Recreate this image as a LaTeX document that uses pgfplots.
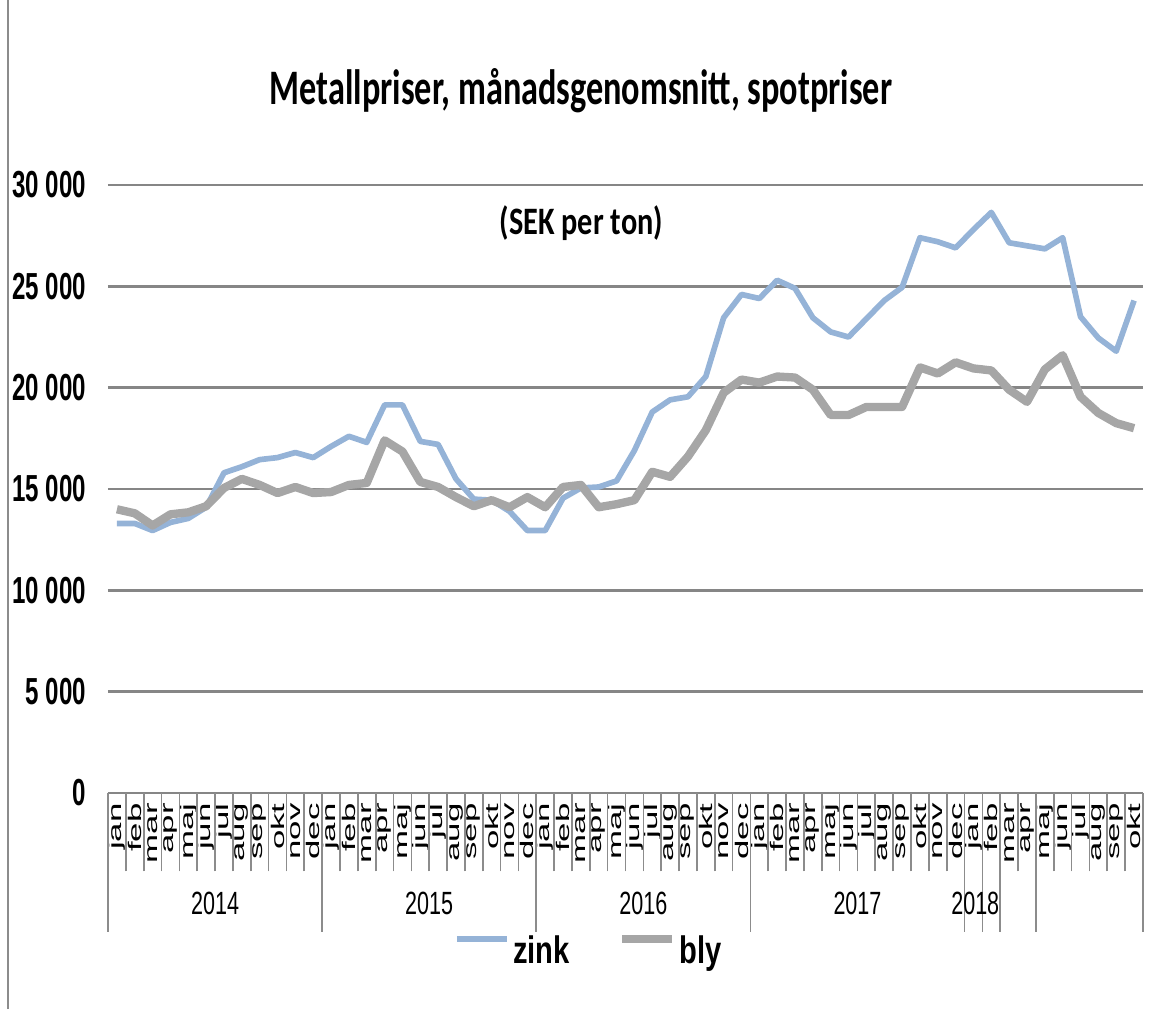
\documentclass[border=0pt]{standalone}
\usepackage{fontspec}
\setmainfont{Liberation Sans}
\newfontfamily\titlefam[FakeStretch=0.69]{Carlito}
\newfontfamily\subfam[FakeStretch=0.78]{Carlito}
\newfontfamily\narrowfam[FakeStretch=0.64]{Liberation Sans}
\newfontfamily\yearfam[FakeStretch=0.67]{Liberation Sans}
\newfontfamily\monthfam[FakeStretch=1.9]{Liberation Sans}
\newfontfamily\legfam[FakeStretch=0.76]{Liberation Sans}
\usepackage{pgfplots}
\pgfplotsset{compat=1.18}
\usepackage{pgfplotstable}
\definecolor{zinkcol}{RGB}{149,179,215}
\definecolor{blycol}{RGB}{166,166,166}
\definecolor{gridgray}{RGB}{134,134,134}
\definecolor{tickgray}{RGB}{140,140,140}

\pgfplotstableread{
x zink bly
0 13300 14000
1 13300 13800
2 12950 13200
3 13350 13750
4 13550 13850
5 14100 14150
6 15800 15050
7 16100 15500
8 16450 15200
9 16550 14800
10 16800 15100
11 16550 14800
12 17100 14850
13 17600 15200
14 17300 15300
15 19150 17400
16 19150 16850
17 17350 15350
18 17200 15100
19 15500 14600
20 14500 14150
21 14450 14450
22 13900 14100
23 12950 14600
24 12950 14100
25 14550 15100
26 15050 15200
27 15100 14100
28 15400 14250
29 16900 14450
30 18800 15850
31 19400 15600
32 19550 16600
33 20550 17900
34 23450 19750
35 24600 20400
36 24400 20250
37 25300 20550
38 24900 20500
39 23450 19900
40 22750 18650
41 22500 18650
42 23400 19050
43 24300 19050
44 24950 19050
45 27400 21000
46 27200 20700
47 26900 21250
48 27800 20950
49 28650 20850
50 27150 19900
51 27000 19300
52 26850 20900
53 27400 21600
54 23500 19550
55 22450 18750
56 21800 18250
57 24300 18000
}\metaldata

\begin{document}
\begin{tikzpicture}
\useasboundingbox (-64.8pt,-129.6pt) rectangle (625.8pt,475.8pt);
\draw[tickgray, line width=1.2pt] (-60pt,-129.6pt) -- (-60pt,475.8pt);
\node[anchor=base, font=\titlefam\bfseries\fontsize{29.8}{32}\selectfont] at (283.8pt,413pt) {Metallpriser, månadsgenomsnitt, spotpriser};
\node[anchor=base, font=\subfam\bfseries\fontsize{23.3}{26}\selectfont] at (284pt,335pt) {(SEK per ton)};
\begin{axis}[
  at={(0pt,0pt)}, anchor=south west,
  scale only axis, width=621pt, height=364.8pt,
  xmin=-0.5, xmax=57.5, ymin=0, ymax=30000,
  axis line style={draw=none},
  tick pos=left,
  scaled y ticks=false,
  ytick={0,5000,10000,15000,20000,25000,30000},
  yticklabels={0,5 000,10 000,15 000,20 000,25 000,30 000},
  ymajorgrids, grid style={draw=gridgray, line width=1.6pt},
  ytick style={draw=none},
  yticklabel style={font=\narrowfam\bfseries\fontsize{22.6}{24}\selectfont, inner sep=0pt},
  yticklabel shift=13pt,
  xtick={0,...,57},
  xticklabels={jan,feb,mar,apr,maj,jun,jul,aug,sep,okt,nov,dec,jan,feb,mar,apr,maj,jun,jul,aug,sep,okt,nov,dec,jan,feb,mar,apr,maj,jun,jul,aug,sep,okt,nov,dec,jan,feb,mar,apr,maj,jun,jul,aug,sep,okt,nov,dec,jan,feb,mar,apr,maj,jun,jul,aug,sep,okt},
  xtick style={draw=none},
  xticklabel style={rotate=90, anchor=east, font=\monthfam\fontsize{11}{12}\selectfont, inner sep=0pt},
  xticklabel shift=6pt,
  extra x ticks={-0.5,0.5,...,57.5},
  extra x tick labels={},
  extra x tick style={xtick style={draw=tickgray, line width=1pt}, major tick length=47pt, tick align=outside, grid=none},
  clip=false,
  legend columns=2,
  legend style={draw=none, fill=none, at={(axis description cs:0.334,-0.259)}, anchor=west, font=\legfam\bfseries\fontsize{23}{25}\selectfont, inner sep=0pt, /tikz/every even column/.append style={column sep=27pt}},
  legend image code/.code={\draw[#1] (0pt,7pt) -- (30pt,7pt);},
]
\addplot[zinkcol, line width=3.4pt, line join=round] table[x=x,y=zink]{\metaldata};
\addlegendentry{zink}
\addplot[blycol, line width=5pt, line join=round] table[x=x,y=bly]{\metaldata};
\addlegendentry{bly}
\pgfplotsinvokeforeach{-0.5,11.5,23.5,35.5,47.5,48.5,49.5,51.5,57.5}{
  \draw[tickgray, line width=1pt] (axis cs:#1,0) -- ++(0pt,-83.4pt);
}
\node[font=\yearfam\fontsize{19.3}{21}\selectfont] at (axis cs:5.5,0) [yshift=-66pt] {2014};
\node[font=\yearfam\fontsize{19.3}{21}\selectfont] at (axis cs:17.5,0) [yshift=-66pt] {2015};
\node[font=\yearfam\fontsize{19.3}{21}\selectfont] at (axis cs:29.5,0) [yshift=-66pt] {2016};
\node[font=\yearfam\fontsize{19.3}{21}\selectfont] at (axis cs:41.5,0) [yshift=-66pt] {2017};
\node[font=\yearfam\fontsize{19.3}{21}\selectfont] at (axis cs:48.1,0) [yshift=-66pt] {2018};
\end{axis}
\end{tikzpicture}
\end{document}
